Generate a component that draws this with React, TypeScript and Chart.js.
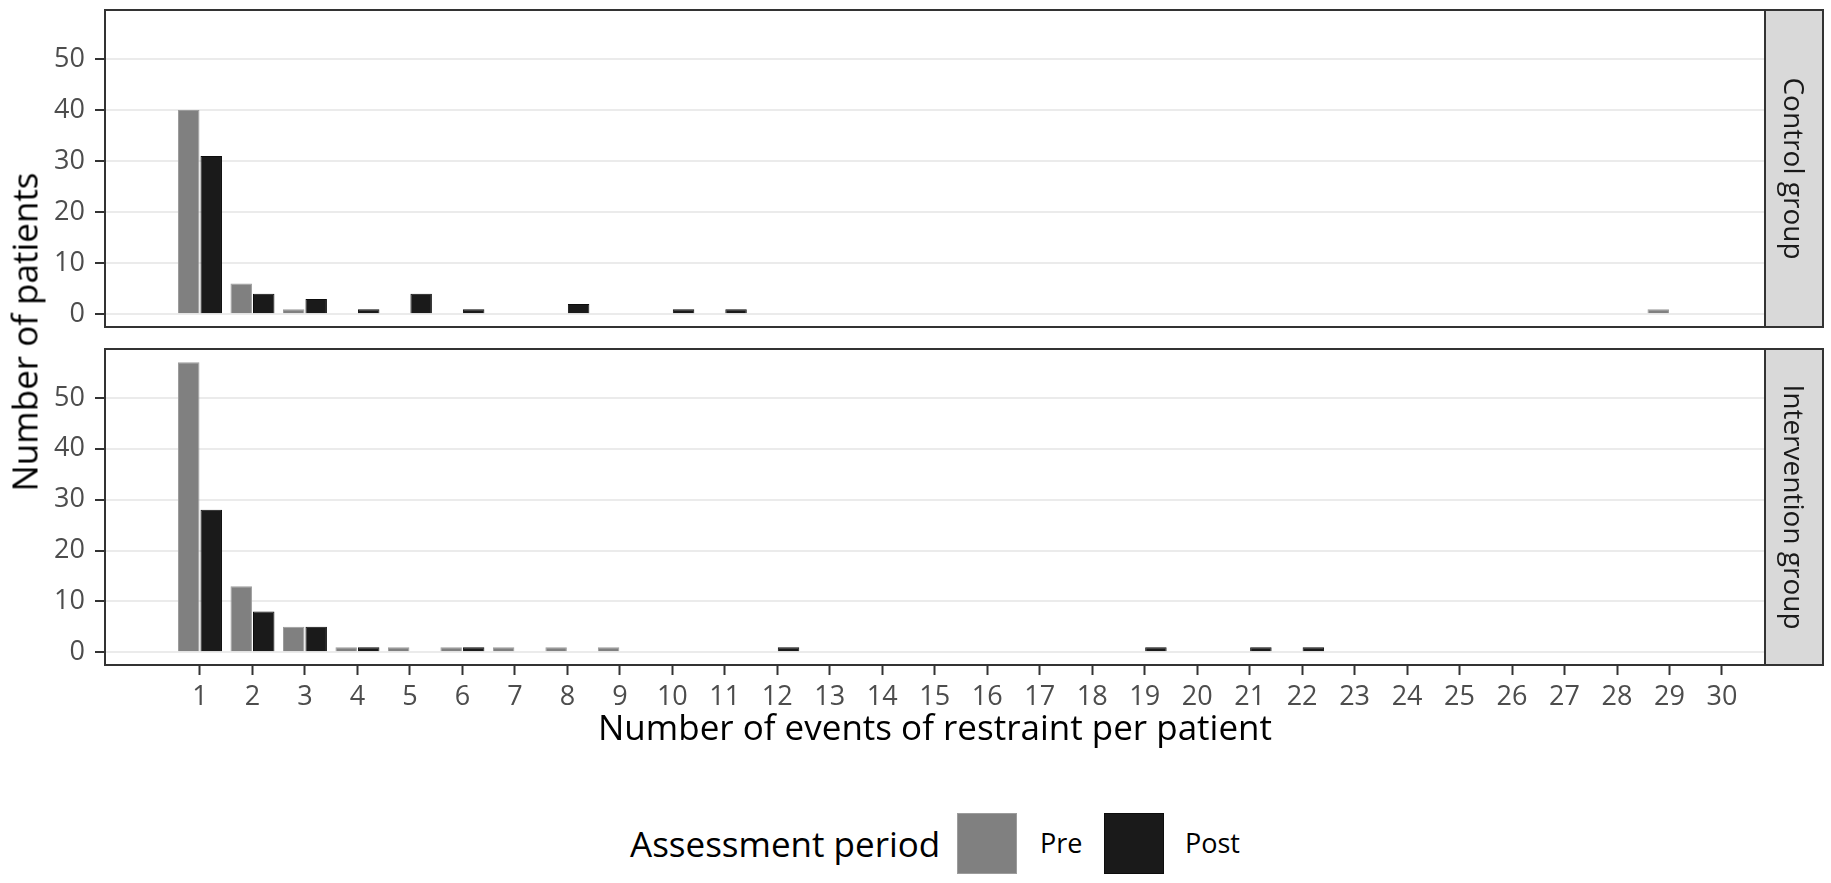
import { useEffect, useRef } from 'react';
import { Chart, registerables, Plugin } from 'chart.js';

Chart.register(...registerables);

// facets and fill groups
const panelNames = ['Control group', 'Intervention group'];
const periodNames = ['Pre', 'Post'];
const periodColors = ['#808080', '#1a1a1a'];
const periodBorders = ['#9c9c9c', '#0d0d0d'];

// control group: events per patient -> number of patients
const controlPreEvents = [1, 2, 3, 29];
const controlPreCounts = [40, 6, 1, 1];
const controlPostEvents = [1, 2, 3, 4, 5, 6, 8, 10, 11];
const controlPostCounts = [31, 4, 3, 1, 4, 1, 2, 1, 1];

// intervention group
const interventionPreEvents = [1, 2, 3, 4, 5, 6, 7, 8, 9];
const interventionPreCounts = [57, 13, 5, 1, 1, 1, 1, 1, 1];
const interventionPostEvents = [1, 2, 3, 4, 6, 12, 19, 21, 22];
const interventionPostCounts = [28, 8, 5, 1, 1, 1, 1, 1, 1];

const xTicks = [1, 2, 3, 4, 5, 6, 7, 8, 9, 10, 11, 12, 13, 14, 15, 16, 17, 18, 19, 20, 21, 22, 23, 24, 25, 26, 27, 28, 29, 30];
const yTicks = [0, 10, 20, 30, 40, 50];

const xTitle = 'Number of events of restraint per patient';
const yTitle = 'Number of patients';
const legendTitle = 'Assessment period';

const FONT = 'Open Sans';

const toPoints = (xs: number[], ys: number[]) => xs.map((x, i) => ({ x, y: ys[i] }));

// panel border + facet strip on the right
const panelPlugin = (label: string): Plugin<'bar'> => ({
	id: 'panelFrame',
	afterDraw(chart) {
		const { ctx, chartArea: a } = chart;
		const sw = 58;
		ctx.save();
		ctx.fillStyle = '#d9d9d9';
		ctx.fillRect(a.right, a.top, sw, a.bottom - a.top);
		ctx.strokeStyle = '#333333';
		ctx.lineWidth = 2;
		ctx.strokeRect(a.right, a.top, sw, a.bottom - a.top);
		ctx.strokeRect(a.left, a.top, a.right - a.left, a.bottom - a.top);
		ctx.translate(a.right + sw / 2, (a.top + a.bottom) / 2);
		ctx.rotate(Math.PI / 2);
		ctx.fillStyle = '#1a1a1a';
		ctx.font = `28px "${FONT}"`;
		ctx.textAlign = 'center';
		ctx.textBaseline = 'middle';
		ctx.fillText(label, 0, 2);
		ctx.restore();
	},
});

function makePanel(canvas: HTMLCanvasElement, panel: number, showX: boolean) {
	const pre = panel === 0 ? toPoints(controlPreEvents, controlPreCounts) : toPoints(interventionPreEvents, interventionPreCounts);
	const post = panel === 0 ? toPoints(controlPostEvents, controlPostCounts) : toPoints(interventionPostEvents, interventionPostCounts);
	return new Chart(canvas, {
		type: 'bar',
		data: {
			datasets: [pre, post].map((data, i) => ({
				label: periodNames[i],
				data,
				backgroundColor: periodColors[i],
				borderColor: periodBorders[i],
				borderWidth: 1,
				categoryPercentage: 0.857,
				barPercentage: 0.955,
			})),
		},
		options: {
			responsive: false,
			animation: false,
			devicePixelRatio: 1,
			layout: { padding: { left: 0, right: 66, top: showX ? 9 : 10, bottom: showX ? 0 : 13 } },
			plugins: { legend: { display: false }, tooltip: { enabled: false } },
			scales: {
				x: {
					type: 'linear',
					min: -0.81,
					max: 30.82,
					offset: false,
					display: showX,
					afterBuildTicks: (axis: any) => {
						axis.ticks = xTicks.map((v) => ({ value: v }));
					},
					afterFit: (axis: any) => {
						axis.height = showX ? 95 : 0;
						axis.paddingLeft = 0;
						axis.paddingRight = 0;
					},
					border: { display: false },
					grid: {
						drawOnChartArea: false,
						offset: false,
						tickLength: 10,
						tickWidth: 2,
						tickColor: '#333333',
					},
					ticks: {
						autoSkip: false,
						maxRotation: 0,
						color: '#4d4d4d',
						padding: 6,
						font: { family: FONT, size: 27 },
					},
					title: {
						display: true,
						text: xTitle,
						color: '#000000',
						font: { family: FONT, size: 35 },
						padding: { top: 0, bottom: 9 },
					},
				},
				y: {
					type: 'linear',
					min: -2.5,
					max: 59.6,
					afterBuildTicks: (axis: any) => {
						axis.ticks = yTicks.map((v) => ({ value: v }));
					},
					afterFit: (axis: any) => {
						axis.width = 105;
						axis.paddingTop = 0;
						axis.paddingBottom = 0;
					},
					border: { display: false },
					grid: {
						color: '#ebebeb',
						lineWidth: 2,
						tickLength: 10,
						tickWidth: 2,
						tickColor: '#333333',
					},
					ticks: {
						color: '#4d4d4d',
						padding: 10,
						font: { family: FONT, size: 27 },
					},
				},
			},
		},
		plugins: [panelPlugin(panelNames[panel])],
	});
}

export default function App() {
	const topRef = useRef<HTMLCanvasElement>(null);
	const bottomRef = useRef<HTMLCanvasElement>(null);

	useEffect(() => {
		const charts: Chart[] = [];
		if (topRef.current) charts.push(makePanel(topRef.current, 0, false));
		if (bottomRef.current) charts.push(makePanel(bottomRef.current, 1, true));
		return () => charts.forEach((c) => c.destroy());
	}, []);

	return (
		<div style={{ position: 'absolute', left: 0, top: 0, width: 1831, height: 883, background: '#ffffff', fontFamily: FONT, overflow: 'hidden' }}>
			<canvas ref={topRef} width={1831} height={340} style={{ position: 'absolute', left: 0, top: 0 }} />
			<canvas ref={bottomRef} width={1831} height={420} style={{ position: 'absolute', left: 0, top: 340 }} />
			<div
				style={{
					position: 'absolute',
					left: 24,
					top: 332,
					fontSize: 35,
					lineHeight: '35px',
					whiteSpace: 'nowrap',
					color: '#000',
					transform: 'translate(-50%, -50%) rotate(-90deg)',
				}}
			>
				{yTitle}
			</div>
			<div style={{ position: 'absolute', left: 630, top: 826, fontSize: 35, lineHeight: '35px', whiteSpace: 'nowrap', color: '#000' }}>
				{legendTitle}
			</div>
			{periodNames.map((name, i) => (
				<div key={name}>
					<div
						style={{
							position: 'absolute',
							left: i === 0 ? 957 : 1104,
							top: 813,
							width: 60,
							height: 61,
							boxSizing: 'border-box',
							background: periodColors[i],
							border: `1px solid ${periodBorders[i]}`,
						}}
					/>
					<div
						style={{
							position: 'absolute',
							left: i === 0 ? 1040 : 1185,
							top: 829,
							fontSize: 27,
							lineHeight: '27px',
							whiteSpace: 'nowrap',
							color: '#000',
						}}
					>
						{name}
					</div>
				</div>
			))}
		</div>
	);
}
